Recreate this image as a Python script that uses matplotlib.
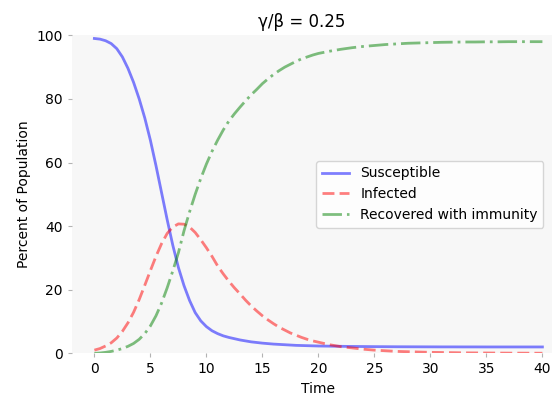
import numpy as np
import matplotlib
matplotlib.use("Agg")
import matplotlib.pyplot as plt

# time grid: half steps up to 20, then whole steps
time = np.concatenate([np.arange(0, 20, 0.5), np.arange(20, 41, 1)])

susceptible = [
    99.0, 98.8, 98.3, 97.4, 95.8, 93.2, 89.6, 85.2, 80.0, 74.0,
    67.0, 59.0, 50.5, 42.0, 34.0, 27.0, 21.3, 16.6, 12.8, 10.2,
    8.4, 7.1, 6.2, 5.5, 5.0, 4.6, 4.2, 3.9, 3.6, 3.4,
    3.2, 3.05, 2.9, 2.8, 2.7, 2.6, 2.5, 2.45, 2.4, 2.35,
    2.3, 2.25, 2.2, 2.16, 2.13, 2.1, 2.08, 2.06, 2.05, 2.04,
    2.03, 2.02, 2.02, 2.01, 2.01, 2.0, 2.0, 2.0, 2.0, 2.0, 2.0,
]

infected = [
    1.0, 1.5, 2.3, 3.3, 4.8, 6.9, 9.6, 12.9, 16.9, 21.4,
    26.0, 30.5, 34.5, 37.7, 39.7, 40.7, 40.6, 39.7, 38.0, 35.7,
    33.2, 30.5, 27.5, 25.0, 22.7, 20.6, 18.7, 16.7, 14.9, 13.3,
    11.8, 10.5, 9.3, 8.2, 7.3, 6.4, 5.7, 5.0, 4.4, 3.9,
    3.5, 2.7, 2.1, 1.7, 1.3, 1.0, 0.8, 0.6, 0.5, 0.4,
    0.3, 0.25, 0.2, 0.15, 0.12, 0.1, 0.08, 0.06, 0.05, 0.04, 0.03,
]

recovered = [
    0.0, 0.1, 0.3, 0.6, 1.0, 1.5, 2.2, 3.1, 4.4, 6.2,
    8.6, 11.8, 15.8, 20.6, 25.9, 31.6, 38.5, 44.5, 50.0, 55.0,
    59.5, 63.5, 67.0, 70.2, 73.0, 75.3, 77.4, 79.4, 81.3, 83.0,
    84.8, 86.3, 87.7, 88.9, 90.0, 90.9, 91.8, 92.6, 93.2, 93.8,
    94.3, 95.0, 95.6, 96.1, 96.5, 96.8, 97.1, 97.3, 97.5, 97.6,
    97.7, 97.8, 97.85, 97.9, 97.9, 97.95, 97.95, 98.0, 98.0, 98.0, 98.0,
]

fig = plt.figure(figsize=(5.52, 3.99), dpi=100)
ax = fig.add_axes([0.1304, 0.1145, 0.8928, 0.797], facecolor="#f7f7f7")

ax.plot(time, susceptible, "b", alpha=0.5, lw=2, label="Susceptible")
ax.plot(time, infected, "r", ls=(0, (4.3, 1.85)), alpha=0.5, lw=2,
        label="Infected")
ax.plot(time, recovered, "g", ls=(0, (7.0, 1.8, 1.0, 1.8)), alpha=0.5, lw=2,
        label="Recovered with immunity")

ax.set_xlim(-2, 42)
ax.set_ylim(0, 100)
ax.set_xlabel("Time")
ax.set_ylabel("Percent of Population")
ax.set_title("\u03b3/\u03b2 = 0.25", fontsize=12, x=0.467)

ax.tick_params(length=3, width=0.8, color="0.7")
for spine in ax.spines.values():
    spine.set_visible(False)

ax.legend(loc="center left", bbox_to_anchor=(0.481, 0.5))

fig.savefig("out.png", dpi=100)
